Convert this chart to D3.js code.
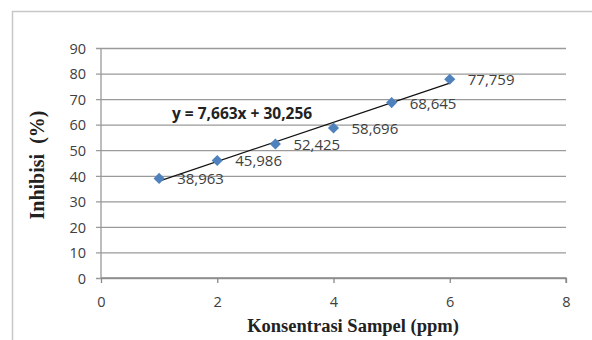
<!DOCTYPE html>
<html>
<head>
<meta charset="utf-8">
<script src="https://cdn.jsdelivr.net/npm/d3@7"></script>
<style>
  body { margin: 0; background: #fff; }
  svg text { font-family: "Open Sans", "Liberation Sans", sans-serif; fill: #404040; }
  .g-title { font-family: "Liberation Serif", "DejaVu Serif", serif !important; font-weight: bold; fill: #222 !important; white-space: pre; }
</style>
</head>
<body>
<script>
// data
let xvals = [1, 2, 3, 4, 5, 6];
let yvals = [38.963, 45.986, 52.425, 58.696, 68.645, 77.759];
let labels = ["38,963", "45,986", "52,425", "58,696", "68,645", "77,759"];
let xticks = [0, 2, 4, 6, 8];
let yticks = [0, 10, 20, 30, 40, 50, 60, 70, 80, 90];
let slope = 7.663, intercept = 30.256;
let eqText = "y = 7,663x + 30,256";

let width = 592, height = 340;
let svg = d3.select("body").append("svg").attr("width", width).attr("height", height);

// outer frame
svg.append("rect")
    .attr("x", 12.5).attr("y", 11.5)
    .attr("width", 590).attr("height", 340)
    .style("fill", "none").style("stroke", "#c8c8c8").style("stroke-width", 1.5);

let pleft = 101, pright = 566, ptop = 48, pbottom = 278;
let x = d3.scaleLinear().domain([0, 8]).range([pleft, pright]);
let y = d3.scaleLinear().domain([0, 90]).range([pbottom, ptop]);

// gridlines + y axis
let yaxis = d3.axisLeft(y).tickValues(yticks).tickSize(-(pright - pleft)).tickPadding(15);
let yg = svg.append("g").attr("transform", "translate(" + pleft + ",0)").call(yaxis);
yg.select(".domain").remove();
yg.selectAll(".tick line").attr("x1", -5).style("stroke", "#9a9a9a").style("stroke-width", 1.3);
yg.selectAll(".tick text").style("font-size", "14.5px").style("fill", "#404040").attr("dy", "0.36em");
svg.append("line")
    .attr("x1", pleft).attr("x2", pleft).attr("y1", ptop).attr("y2", pbottom)
    .style("stroke", "#9a9a9a").style("stroke-width", 1.3);

// x axis
let xaxis = d3.axisBottom(x).tickValues(xticks).tickSize(5).tickPadding(14);
let xg = svg.append("g").attr("transform", "translate(0," + pbottom + ")").call(xaxis);
xg.select(".domain").attr("d", "M" + pleft + ",0H" + pright + "V5").style("stroke", "#8a8a8a").style("stroke-width", 1.3);
xg.selectAll(".tick line").style("stroke", "#8a8a8a").style("stroke-width", 1.3);
xg.selectAll(".tick text").style("font-size", "14.5px").style("fill", "#404040");

// trendline
svg.append("line")
    .attr("x1", x(1)).attr("y1", y(slope * 1 + intercept))
    .attr("x2", x(6)).attr("y2", y(slope * 6 + intercept))
    .style("stroke", "#111").style("stroke-width", 1.2);

// markers
let sym = d3.symbol().type(d3.symbolSquare).size(62);
xvals.forEach(function(d, i) {
    svg.append("path")
        .attr("d", sym())
        .attr("transform", "translate(" + x(d) + "," + y(yvals[i]) + ") rotate(45)")
        .style("fill", "#4f81bd");
    svg.append("text")
        .attr("x", x(d) + 18).attr("y", y(yvals[i]) + 6)
        .style("font-size", "15px").style("fill", "#404040")
        .text(labels[i]);
});

// equation
svg.append("text")
    .attr("x", 172).attr("y", 119)
    .style("font-size", "15.5px").style("font-weight", "bold").style("fill", "#222")
    .text(eqText);

// axis titles
svg.append("text").attr("class", "g-title")
    .attr("transform", "translate(44,165) rotate(-90)")
    .style("text-anchor", "middle").style("font-size", "20px")
    .text("Inhibisi  (%)");
svg.append("text").attr("class", "g-title")
    .attr("x", 353).attr("y", 332)
    .style("text-anchor", "middle").style("font-size", "18.5px")
    .text("Konsentrasi Sampel (ppm)");
</script>
</body>
</html>
